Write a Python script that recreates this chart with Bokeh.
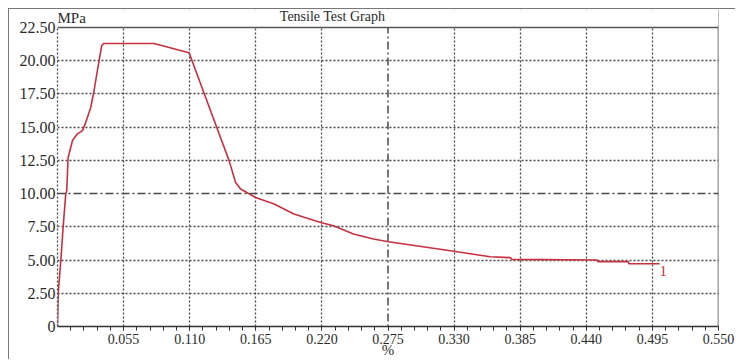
from bokeh.plotting import figure
from bokeh.models import Range1d, FixedTicker, Span, Label, BoxAnnotation, PrintfTickFormatter
from bokeh.embed import file_html
from bokeh.resources import INLINE

# ---- data ----
strain = [0, 0.0006, 0.0028, 0.0047, 0.0069, 0.0077, 0.0088, 0.0125, 0.0166, 0.0208,
          0.0235, 0.0277, 0.0304, 0.0346, 0.0368, 0.0385, 0.0803, 0.1095, 0.1219, 0.1427,
          0.1482, 0.1524, 0.1648, 0.1798, 0.1967, 0.2189, 0.2297, 0.2463, 0.2629, 0.2743,
          0.2854, 0.327, 0.360, 0.377, 0.378, 0.449, 0.4495, 0.475, 0.4755, 0.501]
stress = [0, 2.5, 5.0, 7.5, 10.0, 10.2, 12.7, 14.0, 14.5, 14.74,
          15.36, 16.5, 17.75, 20.0, 21.14, 21.3, 21.3, 20.6, 17.57, 12.5,
          10.84, 10.35, 9.71, 9.24, 8.46, 7.83, 7.58, 6.96, 6.58, 6.40,
          6.25, 5.70, 5.25, 5.18, 5.05, 5.0, 4.88, 4.88, 4.72, 4.72]
x_ticks = [0.055, 0.110, 0.165, 0.220, 0.275, 0.330, 0.385, 0.440, 0.495, 0.550]
x_minor = [round(0.011 * i, 3) for i in range(1, 51)]
y_ticks = [0, 2.5, 5.0, 7.5, 10.0, 12.5, 15.0, 17.5, 20.0, 22.5]
title_text = "Tensile Test Graph"
y_unit = "MPa"
x_unit = "%"
series_label = "1"

FONT = "Times New Roman"
TXT = "#2a2a2a"
GRID = "#4a4a4a"
RED = "#c83040"
Y_MAX = 22.5
Y_TOP = 23.854   # extra room above the plot area for the title bar

p = figure(width=727, height=351, output_backend="svg", toolbar_location=None,
           x_range=Range1d(0, 0.55), y_range=Range1d(0, Y_TOP),
           min_border_left=48, min_border_right=18, min_border_top=0, min_border_bottom=34)
p.styles = {"margin-left": "8px", "margin-top": "8px",
            "border-left": "1px solid #777777", "border-top": "1px solid #777777"}
p.background_fill_color = "white"
p.border_fill_color = "white"
p.outline_line_color = None

# grids
grid_x = [t for t in x_ticks if abs(t - 0.275) > 1e-9 and t < 0.55]
grid_y = [t for t in y_ticks if t not in (0, 10.0, 22.5)]
p.xgrid.ticker = FixedTicker(ticks=grid_x)
p.ygrid.ticker = FixedTicker(ticks=grid_y)
for g in (p.xgrid, p.ygrid):
    g.grid_line_color = GRID
    g.grid_line_dash = "2 2"
    g.grid_line_width = 1.3

p.add_layout(Span(location=0.275, dimension="height", line_color=GRID, line_width=1.5,
                  line_dash="8 3 2 3"))
p.add_layout(Span(location=10.0, dimension="width", line_color=GRID, line_width=1.5,
                  line_dash="8 3 2 3"))
p.add_layout(Span(location=0.55, dimension="height", line_color="#555555", line_width=1.6))

# axes
xa = p.xaxis[0]
xa.ticker = FixedTicker(ticks=x_ticks, minor_ticks=x_minor)
xa.formatter = PrintfTickFormatter(format="%.3f")
xa.axis_line_color = "#333333"
xa.axis_line_width = 1.5
xa.major_tick_out = 4
xa.major_tick_in = 0
xa.minor_tick_out = 4
xa.minor_tick_in = 0
xa.major_tick_line_color = "#333333"
xa.minor_tick_line_color = "#333333"
xa.major_label_text_font = FONT
xa.major_label_text_font_size = "14px"
xa.major_label_text_color = TXT
xa.major_label_standoff = 3
xa.axis_label = x_unit
xa.axis_label_text_font = FONT
xa.axis_label_text_font_size = "15px"
xa.axis_label_text_font_style = "normal"
xa.axis_label_text_color = TXT
xa.axis_label_standoff = -5

ya = p.yaxis[0]
ya.ticker = FixedTicker(ticks=y_ticks)
ya.bounds = (0, Y_MAX)
ya.formatter = PrintfTickFormatter(format="%.2f")
ya.major_label_overrides = {0: "0"}
ya.axis_line_color = GRID
ya.axis_line_dash = "2 2"
ya.axis_line_width = 1.3
ya.major_tick_out = 0
ya.major_tick_in = 0
ya.minor_tick_out = 0
ya.minor_tick_in = 0
ya.major_label_text_font = FONT
ya.major_label_text_font_size = "16px"
ya.major_label_text_color = TXT
ya.major_label_standoff = 2

# curve
p.line(strain, stress, line_color=RED, line_width=1.6)

# title bar area (white, above the plotting area)
p.add_layout(BoxAnnotation(left=0, right=0.55, bottom=Y_MAX, top=Y_TOP,
                           fill_color="white", fill_alpha=1.0, line_color=None))
p.add_layout(Span(location=Y_MAX, dimension="width", line_color="#555555", line_width=1.6))

# texts
p.add_layout(Label(x=0.2288, y=23.33, text=title_text, text_font=FONT, text_font_size="14px",
                   text_color=TXT, text_align="center", text_baseline="middle"))
p.add_layout(Label(x=0.0, y=23.25, text=y_unit, text_font=FONT, text_font_size="15px",
                   text_color=TXT, text_align="left", text_baseline="middle"))
p.add_layout(Label(x=0.504, y=4.21, text=series_label, text_font=FONT,
                   text_font_size="15px", text_color=RED, text_align="center",
                   text_baseline="middle"))

open("out.html", "w").write(file_html(p, INLINE))
